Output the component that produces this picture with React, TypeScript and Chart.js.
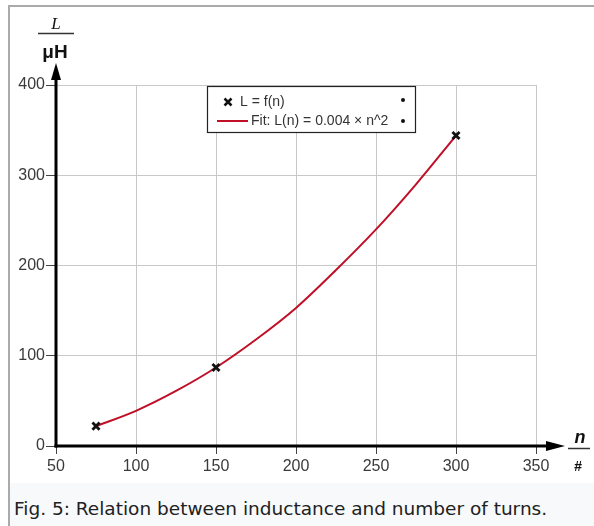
import React, { useEffect, useRef } from 'react';
import { Chart, registerables } from 'chart.js';

Chart.register(...registerables);

// ---- data ----
const measuredN = [75, 150, 300];
const measuredL = [22, 87, 344];
const fitN = [75, 100, 125, 150, 175, 200, 225, 250, 275, 300];
const fitL = [22, 39, 61, 87, 118, 153, 195, 240, 290, 344];
const xTicks = [50, 100, 150, 200, 250, 300, 350];
const yTicks = [0, 100, 200, 300, 400];
const seriesLabels = ['L = f(n)', 'Fit: L(n) = 0.004 \u00d7 n^2'];
const yTitleTop = 'L';
const yTitleBottom = '\u03bcH';
const xTitleTop = 'n';
const xTitleBottom = '#';
const caption = 'Fig. 5: Relation between inductance and number of turns.';

const CANVAS_W = 584;
const CANVAS_H = 476;
const OX = 10; // canvas offset in page
const OY = 7;
const FIT_COLOR = '#c01028';
const FONT = '"Liberation Sans", Arial, sans-serif';

const arrowAxes = {
  id: 'arrowAxes',
  beforeDatasetsDraw(chart: any) {
    const { ctx, chartArea: a } = chart;
    ctx.save();
    ctx.strokeStyle = '#000';
    ctx.fillStyle = '#000';
    ctx.lineWidth = 3;
    // y axis
    const yTip = 63 - OY;
    ctx.beginPath();
    ctx.moveTo(a.left, a.bottom + 1.5);
    ctx.lineTo(a.left, yTip + 10);
    ctx.stroke();
    ctx.beginPath();
    ctx.moveTo(a.left, yTip);
    ctx.lineTo(a.left - 5, yTip + 17);
    ctx.lineTo(a.left + 5, yTip + 17);
    ctx.closePath();
    ctx.fill();
    // x axis
    const xTip = 565 - OX;
    ctx.beginPath();
    ctx.moveTo(a.left - 1.5, a.bottom);
    ctx.lineTo(xTip - 10, a.bottom);
    ctx.stroke();
    ctx.beginPath();
    ctx.moveTo(xTip, a.bottom);
    ctx.lineTo(xTip - 19, a.bottom - 5);
    ctx.lineTo(xTip - 19, a.bottom + 5);
    ctx.closePath();
    ctx.fill();

    // axis titles (fractions)
    ctx.textAlign = 'center';
    ctx.textBaseline = 'middle';
    ctx.fillStyle = '#111';
    ctx.font = 'italic 17px "Liberation Serif", serif';
    ctx.fillText(yTitleTop, 56 - OX, 25 - OY);
    ctx.lineWidth = 1.5;
    ctx.strokeStyle = '#333';
    ctx.beginPath();
    ctx.moveTo(38 - OX, 33.5 - OY);
    ctx.lineTo(74 - OX, 33.5 - OY);
    ctx.stroke();
    ctx.font = 'bold 19px ' + FONT;
    ctx.fillText(yTitleBottom, 55 - OX, 53 - OY);

    ctx.font = 'italic bold 18px ' + FONT;
    ctx.fillText(xTitleTop, 580 - OX, 438 - OY);
    ctx.beginPath();
    ctx.moveTo(568 - OX, 448.5 - OY);
    ctx.lineTo(590 - OX, 448.5 - OY);
    ctx.stroke();
    ctx.font = 'italic bold 14px ' + FONT;
    ctx.fillText(xTitleBottom, 578 - OX, 467 - OY);
    ctx.restore();
  },
};

const boxLegend = {
  id: 'boxLegend',
  afterDraw(chart: any) {
    const { ctx, chartArea: a } = chart;
    const ds = chart.data.datasets;
    ctx.save();
    const bx = a.left + 151;
    const by = a.top + 1;
    ctx.fillStyle = '#fff';
    ctx.fillRect(bx, by, 208, 46);
    ctx.strokeStyle = '#222';
    ctx.lineWidth = 1.2;
    ctx.strokeRect(bx + 0.5, by + 0.5, 208, 46);

    ctx.font = '14px ' + FONT;
    ctx.textBaseline = 'middle';
    ctx.textAlign = 'left';
    // row 1: cross marker
    const r1 = by + 16;
    ctx.strokeStyle = '#111';
    ctx.lineWidth = 2.5;
    const mx = a.left + 172;
    ctx.beginPath();
    ctx.moveTo(mx - 3.5, r1 - 3.5);
    ctx.lineTo(mx + 3.5, r1 + 3.5);
    ctx.moveTo(mx + 3.5, r1 - 3.5);
    ctx.lineTo(mx - 3.5, r1 + 3.5);
    ctx.stroke();
    ctx.fillStyle = '#333';
    ctx.fillText(ds[0].label, a.left + 184, r1);
    // row 2: red line
    const r2 = by + 35;
    ctx.strokeStyle = FIT_COLOR;
    ctx.lineWidth = 2;
    ctx.beginPath();
    ctx.moveTo(a.left + 161, r2);
    ctx.lineTo(a.left + 192, r2);
    ctx.stroke();
    ctx.fillText(ds[1].label, a.left + 195, r2);
    // dots on the right
    ctx.fillStyle = '#111';
    [r1 - 2, r2].forEach((yy) => {
      ctx.beginPath();
      ctx.arc(a.left + 347, yy, 2, 0, Math.PI * 2);
      ctx.fill();
    });
    ctx.restore();
  },
};

export default function App() {
  const ref = useRef<HTMLCanvasElement | null>(null);

  useEffect(() => {
    if (!ref.current) return;
    const chart = new Chart(ref.current, {
      type: 'scatter',
      data: {
        datasets: [
          {
            label: seriesLabels[0],
            data: measuredN.map((n, i) => ({ x: n, y: measuredL[i] })),
            showLine: false,
            pointStyle: 'crossRot',
            pointRadius: 5,
            pointBorderWidth: 2.8,
            pointBorderColor: '#111',
            pointBackgroundColor: '#111',
            borderColor: '#111',
          },
          {
            label: seriesLabels[1],
            data: fitN.map((n, i) => ({ x: n, y: fitL[i] })),
            showLine: true,
            borderColor: FIT_COLOR,
            borderWidth: 2,
            pointRadius: 0,
            cubicInterpolationMode: 'monotone',
            fill: false,
          },
        ],
      },
      options: {
        animation: false,
        responsive: false,
        devicePixelRatio: 1,
        layout: { padding: { top: 78, right: 58, left: 0, bottom: 0 } },
        plugins: {
          legend: { display: false },
          tooltip: { enabled: false },
        },
        scales: {
          x: {
            type: 'linear',
            min: xTicks[0],
            max: xTicks[xTicks.length - 1],
            afterFit: (s: any) => {
              s.height = 37;
            },
            ticks: {
              stepSize: 50,
              autoSkip: false,
              padding: 3,
              color: '#3a3a3a',
              font: { family: FONT, size: 16 },
            },
            grid: {
              color: '#c8c8c8',
              lineWidth: 1,
              tickColor: '#444',
              tickLength: 8,
            },
            border: { display: false },
          },
          y: {
            type: 'linear',
            min: yTicks[0],
            max: yTicks[yTicks.length - 1],
            afterFit: (s: any) => {
              s.width = 46;
            },
            ticks: {
              stepSize: 100,
              autoSkip: false,
              padding: 1,
              color: '#3a3a3a',
              font: { family: FONT, size: 16 },
            },
            grid: {
              color: '#c8c8c8',
              lineWidth: 1,
              tickColor: '#444',
              tickLength: 10,
            },
            border: { display: false },
          },
        },
      },
      plugins: [arrowAxes, boxLegend],
    });
    return () => chart.destroy();
  }, []);

  return (
    <div
      style={{
        position: 'fixed',
        left: 0,
        top: 0,
        width: 594,
        height: 526,
        background: '#fff',
        overflow: 'hidden',
      }}
    >
      <div style={{ position: 'absolute', left: 8, top: 5, width: 586, height: 2, background: '#aaa' }} />
      <div style={{ position: 'absolute', left: 8, top: 5, width: 2, height: 521, background: '#aaa' }} />
      <canvas
        ref={ref}
        width={CANVAS_W}
        height={CANVAS_H}
        style={{ position: 'absolute', left: OX, top: OY, width: CANVAS_W, height: CANVAS_H, display: 'block' }}
      />
      <div
        style={{
          position: 'absolute',
          left: 10,
          top: 483,
          width: 584,
          height: 43,
          background: '#f8f9fa',
          boxSizing: 'border-box',
          paddingTop: 15,
          paddingLeft: 4,
          fontFamily: '"DejaVu Sans", sans-serif',
          fontSize: 18.5,
          lineHeight: '22px',
          color: '#202122',
          whiteSpace: 'nowrap',
        }}
      >
        {caption}
      </div>
    </div>
  );
}
